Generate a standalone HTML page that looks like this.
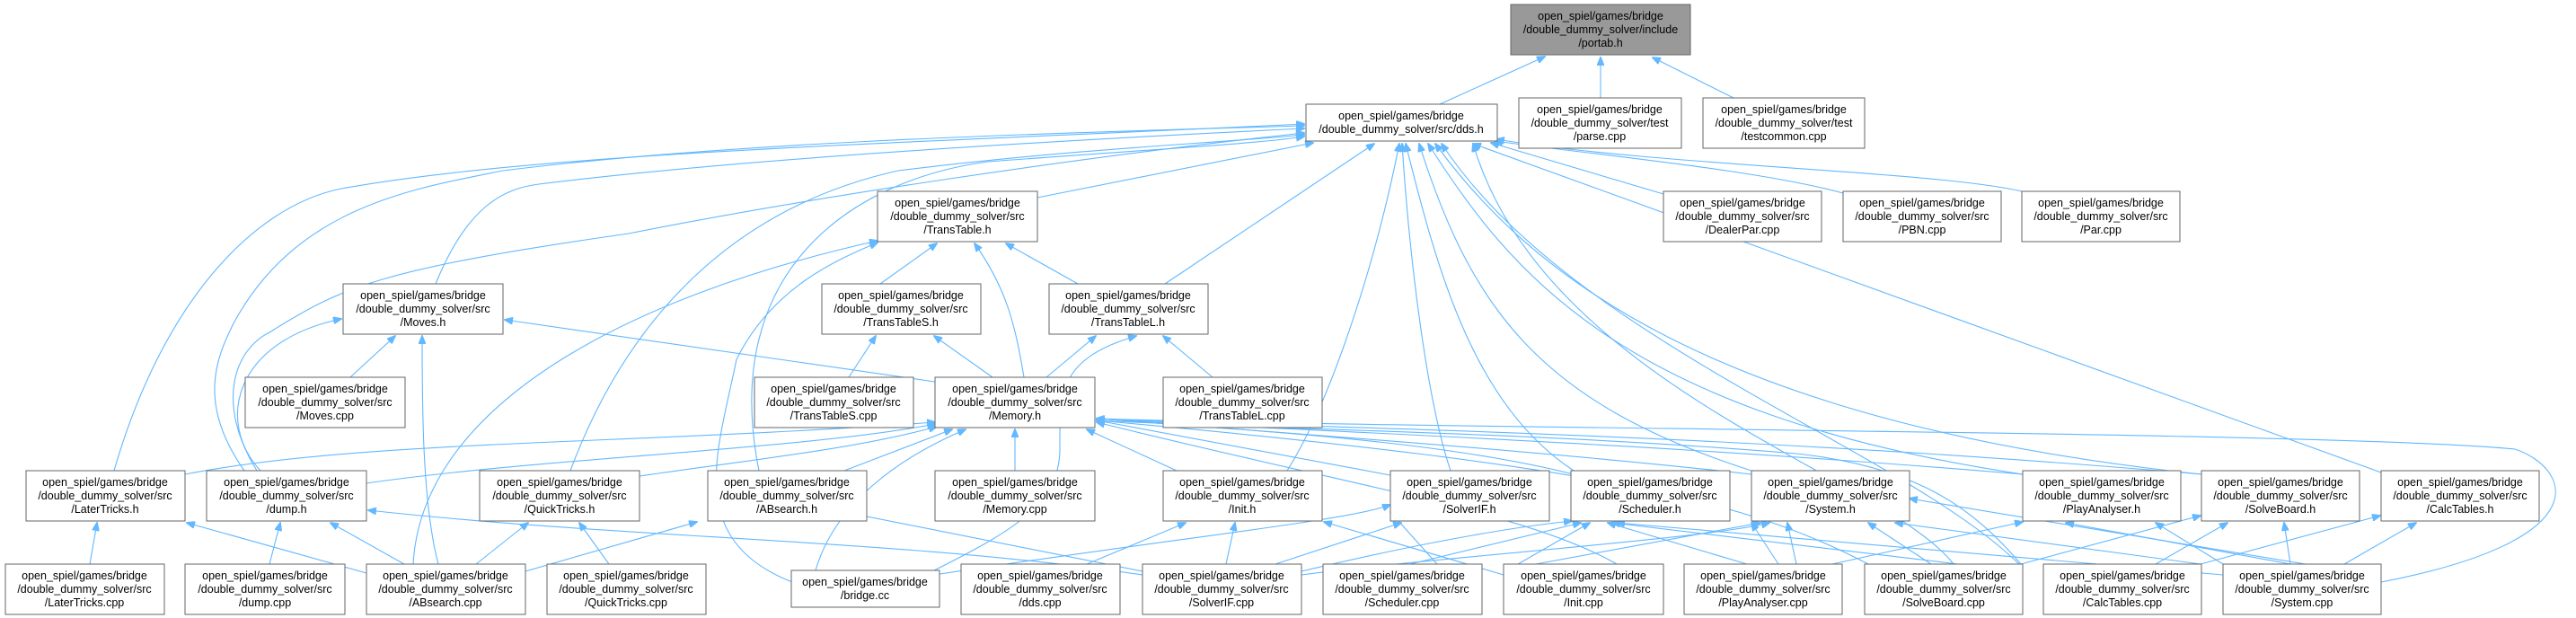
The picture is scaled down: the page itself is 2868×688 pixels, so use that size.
<!DOCTYPE html>
<html><head><meta charset="utf-8"><style>
html,body{margin:0;padding:0;background:#fff;}
svg{display:block;}
text{font-family:"Liberation Sans",sans-serif;font-size:12.5px;fill:#000;text-anchor:middle;}
.e{fill:none;stroke:#63b8ff;stroke-width:1.1;marker-end:url(#a);}
rect{fill:#fff;stroke:#666;stroke-width:1;}
</style></head><body>
<svg width="2868" height="688" viewBox="0 0 2868 688" xmlns="http://www.w3.org/2000/svg">
<defs><marker id="a" markerWidth="10" markerHeight="8" refX="9" refY="4" orient="auto" markerUnits="userSpaceOnUse"><path d="M0,0 L10,4 L0,8 z" fill="#63b8ff" stroke="#63b8ff"/></marker></defs>
<g>
<path class="e" d="M1603,116 L1720,63"/>
<path class="e" d="M1782,109 L1782,64"/>
<path class="e" d="M1930,109 L1840,64"/>
<path class="e" d="M1155,220 L1462,159"/>
<path class="e" d="M1297,316 L1530,160"/>
<path class="e" d="M1852,216 L1660,159"/>
<path class="e" d="M2052,215 C1960,190 1800,175 1664,157"/>
<path class="e" d="M2251,213 C2150,190 1850,185 1666,155"/>
<path class="e" d="M2651,526 L1640,160"/>
<path class="e" d="M485,316 C520,230 560,210 600,205 C800,180 1100,160 1452,143"/>
<path class="e" d="M127,524 C180,340 280,230 380,210 C600,170 1000,160 1452,138"/>
<path class="e" d="M272,524 C220,450 240,400 260,360 C330,230 460,210 560,190 C800,160 1100,150 1452,140"/>
<path class="e" d="M286,524 C240,450 260,390 300,370 C380,320 420,300 700,260 C900,220 1200,175 1452,148"/>
<path class="e" d="M635,524 C700,350 820,230 1000,190 C1200,165 1350,160 1452,150"/>
<path class="e" d="M845,524 C800,300 950,200 1100,180 C1300,165 1400,160 1452,152"/>
<path class="e" d="M1433,524 C1480,450 1530,300 1558,160"/>
<path class="e" d="M1615,524 C1590,450 1570,300 1561,160"/>
<path class="e" d="M1752,524 C1640,450 1600,300 1565,160"/>
<path class="e" d="M1950,524 C1720,450 1640,350 1580,160"/>
<path class="e" d="M2252,528 C1800,460 1680,300 1590,160"/>
<path class="e" d="M2451,528 C1900,470 1700,300 1598,160"/>
<path class="e" d="M2175,628 C2100,530 1720,430 1640,160"/>
<path class="e" d="M2250,630 C2120,500 1750,380 1605,160"/>
<path class="e" d="M980,316 L1043,271"/>
<path class="e" d="M1140,420 C1130,360 1120,320 1085,271"/>
<path class="e" d="M1200,316 L1120,271"/>
<path class="e" d="M460,628 C470,450 700,330 977,268"/>
<path class="e" d="M882,648 C760,600 800,500 820,400 C860,320 930,290 977,270"/>
<path class="e" d="M945,420 L975,374"/>
<path class="e" d="M1105,420 L1040,374"/>
<path class="e" d="M1165,420 L1220,374"/>
<path class="e" d="M1350,420 L1295,374"/>
<path class="e" d="M1040,635 C1130,590 1180,560 1180,500 C1180,440 1176,400 1265,374"/>
<path class="e" d="M1041,425 L562,356"/>
<path class="e" d="M390,420 L440,374"/>
<path class="e" d="M488,628 C470,560 470,450 470,374"/>
<path class="e" d="M290,524 C240,470 260,380 380,355"/>
<path class="e" d="M206,528 C400,490 700,495 1041,470"/>
<path class="e" d="M408,538 C600,510 900,500 1041,472"/>
<path class="e" d="M712,530 C850,510 950,500 1043,475"/>
<path class="e" d="M940,524 L1060,478"/>
<path class="e" d="M1130,524 L1130,478"/>
<path class="e" d="M1310,524 L1210,478"/>
<path class="e" d="M1548,529 L1221,468"/>
<path class="e" d="M1752,528 C1600,490 1400,480 1221,466"/>
<path class="e" d="M1950,528 C1700,500 1400,480 1221,466"/>
<path class="e" d="M2252,528 C1800,490 1400,478 1221,466"/>
<path class="e" d="M2451,528 C1900,480 1400,475 1221,466"/>
<path class="e" d="M908,635 C930,560 1000,510 1075,478"/>
<path class="e" d="M2651,648 C2900,600 2860,520 2800,500 C2600,480 1600,478 1221,466"/>
<path class="e" d="M2250,628 C2200,570 2140,520 2000,505 C1700,480 1400,478 1221,468"/>
<path class="e" d="M1800,628 C1700,570 1500,540 1221,470"/>
<path class="e" d="M2080,628 C1950,560 1800,520 1221,468"/>
<path class="e" d="M100,628 L108,582"/>
<path class="e" d="M408,638 L208,582"/>
<path class="e" d="M300,628 L312,582"/>
<path class="e" d="M450,628 L368,582"/>
<path class="e" d="M1272,640 C1000,600 700,600 410,568"/>
<path class="e" d="M530,628 L588,582"/>
<path class="e" d="M678,628 L645,582"/>
<path class="e" d="M585,636 L776,581"/>
<path class="e" d="M1272,636 L940,570"/>
<path class="e" d="M1210,628 L1320,582"/>
<path class="e" d="M1365,628 L1375,582"/>
<path class="e" d="M1674,640 L1474,581"/>
<path class="e" d="M1040,640 C1300,600 1500,580 1548,562"/>
<path class="e" d="M1420,628 L1560,582"/>
<path class="e" d="M1600,628 L1548,570"/>
<path class="e" d="M1449,636 C1600,600 1700,585 1750,580"/>
<path class="e" d="M1570,628 L1760,582"/>
<path class="e" d="M1690,628 L1770,582"/>
<path class="e" d="M1945,628 L1790,582"/>
<path class="e" d="M2180,628 L1795,582"/>
<path class="e" d="M2475,640 L1800,582"/>
<path class="e" d="M1710,628 L1960,582"/>
<path class="e" d="M1980,628 L1950,582"/>
<path class="e" d="M2000,628 L1990,582"/>
<path class="e" d="M2150,628 L2080,582"/>
<path class="e" d="M2450,628 L2110,582"/>
<path class="e" d="M2651,642 L2126,555"/>
<path class="e" d="M1449,640 C1600,620 1900,600 1970,582"/>
<path class="e" d="M2040,628 L2252,581"/>
<path class="e" d="M2475,628 L2400,582"/>
<path class="e" d="M2250,628 L2450,574"/>
<path class="e" d="M2400,628 L2480,582"/>
<path class="e" d="M2550,628 L2543,582"/>
<path class="e" d="M2450,628 L2650,574"/>
<path class="e" d="M2610,628 L2690,582"/>
<path class="e" d="M2550,628 L2300,582"/>
</g>
<g>
<rect x="1682" y="5" width="200" height="56" style="fill:#999"/>
<text x="1782" y="22">open_spiel/games/bridge</text><text x="1782" y="37">/double_dummy_solver/include</text><text x="1782" y="52">/portab.h</text>
<rect x="1454" y="116" width="213" height="41"/>
<text x="1560" y="133">open_spiel/games/bridge</text><text x="1560" y="148">/double_dummy_solver/src/dds.h</text>
<rect x="1691" y="109" width="181" height="56"/>
<text x="1781" y="126">open_spiel/games/bridge</text><text x="1781" y="141">/double_dummy_solver/test</text><text x="1781" y="156">/parse.cpp</text>
<rect x="1896" y="109" width="180" height="56"/>
<text x="1986" y="126">open_spiel/games/bridge</text><text x="1986" y="141">/double_dummy_solver/test</text><text x="1986" y="156">/testcommon.cpp</text>
<rect x="977" y="213" width="178" height="56"/>
<text x="1066" y="230">open_spiel/games/bridge</text><text x="1066" y="245">/double_dummy_solver/src</text><text x="1066" y="260">/TransTable.h</text>
<rect x="1852" y="213" width="176" height="56"/>
<text x="1940" y="230">open_spiel/games/bridge</text><text x="1940" y="245">/double_dummy_solver/src</text><text x="1940" y="260">/DealerPar.cpp</text>
<rect x="2052" y="213" width="176" height="56"/>
<text x="2140" y="230">open_spiel/games/bridge</text><text x="2140" y="245">/double_dummy_solver/src</text><text x="2140" y="260">/PBN.cpp</text>
<rect x="2251" y="213" width="176" height="56"/>
<text x="2339" y="230">open_spiel/games/bridge</text><text x="2339" y="245">/double_dummy_solver/src</text><text x="2339" y="260">/Par.cpp</text>
<rect x="382" y="316" width="178" height="56"/>
<text x="471" y="333">open_spiel/games/bridge</text><text x="471" y="348">/double_dummy_solver/src</text><text x="471" y="363">/Moves.h</text>
<rect x="915" y="316" width="177" height="56"/>
<text x="1003" y="333">open_spiel/games/bridge</text><text x="1003" y="348">/double_dummy_solver/src</text><text x="1003" y="363">/TransTableS.h</text>
<rect x="1168" y="316" width="177" height="56"/>
<text x="1256" y="333">open_spiel/games/bridge</text><text x="1256" y="348">/double_dummy_solver/src</text><text x="1256" y="363">/TransTableL.h</text>
<rect x="273" y="420" width="178" height="56"/>
<text x="362" y="437">open_spiel/games/bridge</text><text x="362" y="452">/double_dummy_solver/src</text><text x="362" y="467">/Moves.cpp</text>
<rect x="840" y="420" width="177" height="56"/>
<text x="928" y="437">open_spiel/games/bridge</text><text x="928" y="452">/double_dummy_solver/src</text><text x="928" y="467">/TransTableS.cpp</text>
<rect x="1041" y="420" width="178" height="56"/>
<text x="1130" y="437">open_spiel/games/bridge</text><text x="1130" y="452">/double_dummy_solver/src</text><text x="1130" y="467">/Memory.h</text>
<rect x="1295" y="420" width="177" height="56"/>
<text x="1383" y="437">open_spiel/games/bridge</text><text x="1383" y="452">/double_dummy_solver/src</text><text x="1383" y="467">/TransTableL.cpp</text>
<rect x="29" y="524" width="177" height="56"/>
<text x="117" y="541">open_spiel/games/bridge</text><text x="117" y="556">/double_dummy_solver/src</text><text x="117" y="571">/LaterTricks.h</text>
<rect x="230" y="524" width="178" height="56"/>
<text x="319" y="541">open_spiel/games/bridge</text><text x="319" y="556">/double_dummy_solver/src</text><text x="319" y="571">/dump.h</text>
<rect x="534" y="524" width="178" height="56"/>
<text x="623" y="541">open_spiel/games/bridge</text><text x="623" y="556">/double_dummy_solver/src</text><text x="623" y="571">/QuickTricks.h</text>
<rect x="788" y="524" width="177" height="56"/>
<text x="876" y="541">open_spiel/games/bridge</text><text x="876" y="556">/double_dummy_solver/src</text><text x="876" y="571">/ABsearch.h</text>
<rect x="1041" y="524" width="178" height="56"/>
<text x="1130" y="541">open_spiel/games/bridge</text><text x="1130" y="556">/double_dummy_solver/src</text><text x="1130" y="571">/Memory.cpp</text>
<rect x="1295" y="524" width="177" height="56"/>
<text x="1383" y="541">open_spiel/games/bridge</text><text x="1383" y="556">/double_dummy_solver/src</text><text x="1383" y="571">/Init.h</text>
<rect x="1548" y="524" width="177" height="56"/>
<text x="1636" y="541">open_spiel/games/bridge</text><text x="1636" y="556">/double_dummy_solver/src</text><text x="1636" y="571">/SolverIF.h</text>
<rect x="1749" y="524" width="177" height="56"/>
<text x="1837" y="541">open_spiel/games/bridge</text><text x="1837" y="556">/double_dummy_solver/src</text><text x="1837" y="571">/Scheduler.h</text>
<rect x="1950" y="524" width="176" height="56"/>
<text x="2038" y="541">open_spiel/games/bridge</text><text x="2038" y="556">/double_dummy_solver/src</text><text x="2038" y="571">/System.h</text>
<rect x="2252" y="524" width="176" height="56"/>
<text x="2340" y="541">open_spiel/games/bridge</text><text x="2340" y="556">/double_dummy_solver/src</text><text x="2340" y="571">/PlayAnalyser.h</text>
<rect x="2451" y="524" width="176" height="56"/>
<text x="2539" y="541">open_spiel/games/bridge</text><text x="2539" y="556">/double_dummy_solver/src</text><text x="2539" y="571">/SolveBoard.h</text>
<rect x="2651" y="524" width="176" height="56"/>
<text x="2739" y="541">open_spiel/games/bridge</text><text x="2739" y="556">/double_dummy_solver/src</text><text x="2739" y="571">/CalcTables.h</text>
<rect x="6" y="628" width="177" height="56"/>
<text x="94" y="645">open_spiel/games/bridge</text><text x="94" y="660">/double_dummy_solver/src</text><text x="94" y="675">/LaterTricks.cpp</text>
<rect x="206" y="628" width="178" height="56"/>
<text x="295" y="645">open_spiel/games/bridge</text><text x="295" y="660">/double_dummy_solver/src</text><text x="295" y="675">/dump.cpp</text>
<rect x="408" y="628" width="177" height="56"/>
<text x="496" y="645">open_spiel/games/bridge</text><text x="496" y="660">/double_dummy_solver/src</text><text x="496" y="675">/ABsearch.cpp</text>
<rect x="609" y="628" width="177" height="56"/>
<text x="697" y="645">open_spiel/games/bridge</text><text x="697" y="660">/double_dummy_solver/src</text><text x="697" y="675">/QuickTricks.cpp</text>
<rect x="881" y="635" width="165" height="41"/>
<text x="963" y="652">open_spiel/games/bridge</text><text x="963" y="667">/bridge.cc</text>
<rect x="1070" y="628" width="177" height="56"/>
<text x="1158" y="645">open_spiel/games/bridge</text><text x="1158" y="660">/double_dummy_solver/src</text><text x="1158" y="675">/dds.cpp</text>
<rect x="1272" y="628" width="177" height="56"/>
<text x="1360" y="645">open_spiel/games/bridge</text><text x="1360" y="660">/double_dummy_solver/src</text><text x="1360" y="675">/SolverIF.cpp</text>
<rect x="1473" y="628" width="177" height="56"/>
<text x="1561" y="645">open_spiel/games/bridge</text><text x="1561" y="660">/double_dummy_solver/src</text><text x="1561" y="675">/Scheduler.cpp</text>
<rect x="1674" y="628" width="178" height="56"/>
<text x="1763" y="645">open_spiel/games/bridge</text><text x="1763" y="660">/double_dummy_solver/src</text><text x="1763" y="675">/Init.cpp</text>
<rect x="1875" y="628" width="176" height="56"/>
<text x="1963" y="645">open_spiel/games/bridge</text><text x="1963" y="660">/double_dummy_solver/src</text><text x="1963" y="675">/PlayAnalyser.cpp</text>
<rect x="2076" y="628" width="176" height="56"/>
<text x="2164" y="645">open_spiel/games/bridge</text><text x="2164" y="660">/double_dummy_solver/src</text><text x="2164" y="675">/SolveBoard.cpp</text>
<rect x="2275" y="628" width="176" height="56"/>
<text x="2363" y="645">open_spiel/games/bridge</text><text x="2363" y="660">/double_dummy_solver/src</text><text x="2363" y="675">/CalcTables.cpp</text>
<rect x="2475" y="628" width="176" height="56"/>
<text x="2563" y="645">open_spiel/games/bridge</text><text x="2563" y="660">/double_dummy_solver/src</text><text x="2563" y="675">/System.cpp</text>
</g>
</svg>
</body></html>
